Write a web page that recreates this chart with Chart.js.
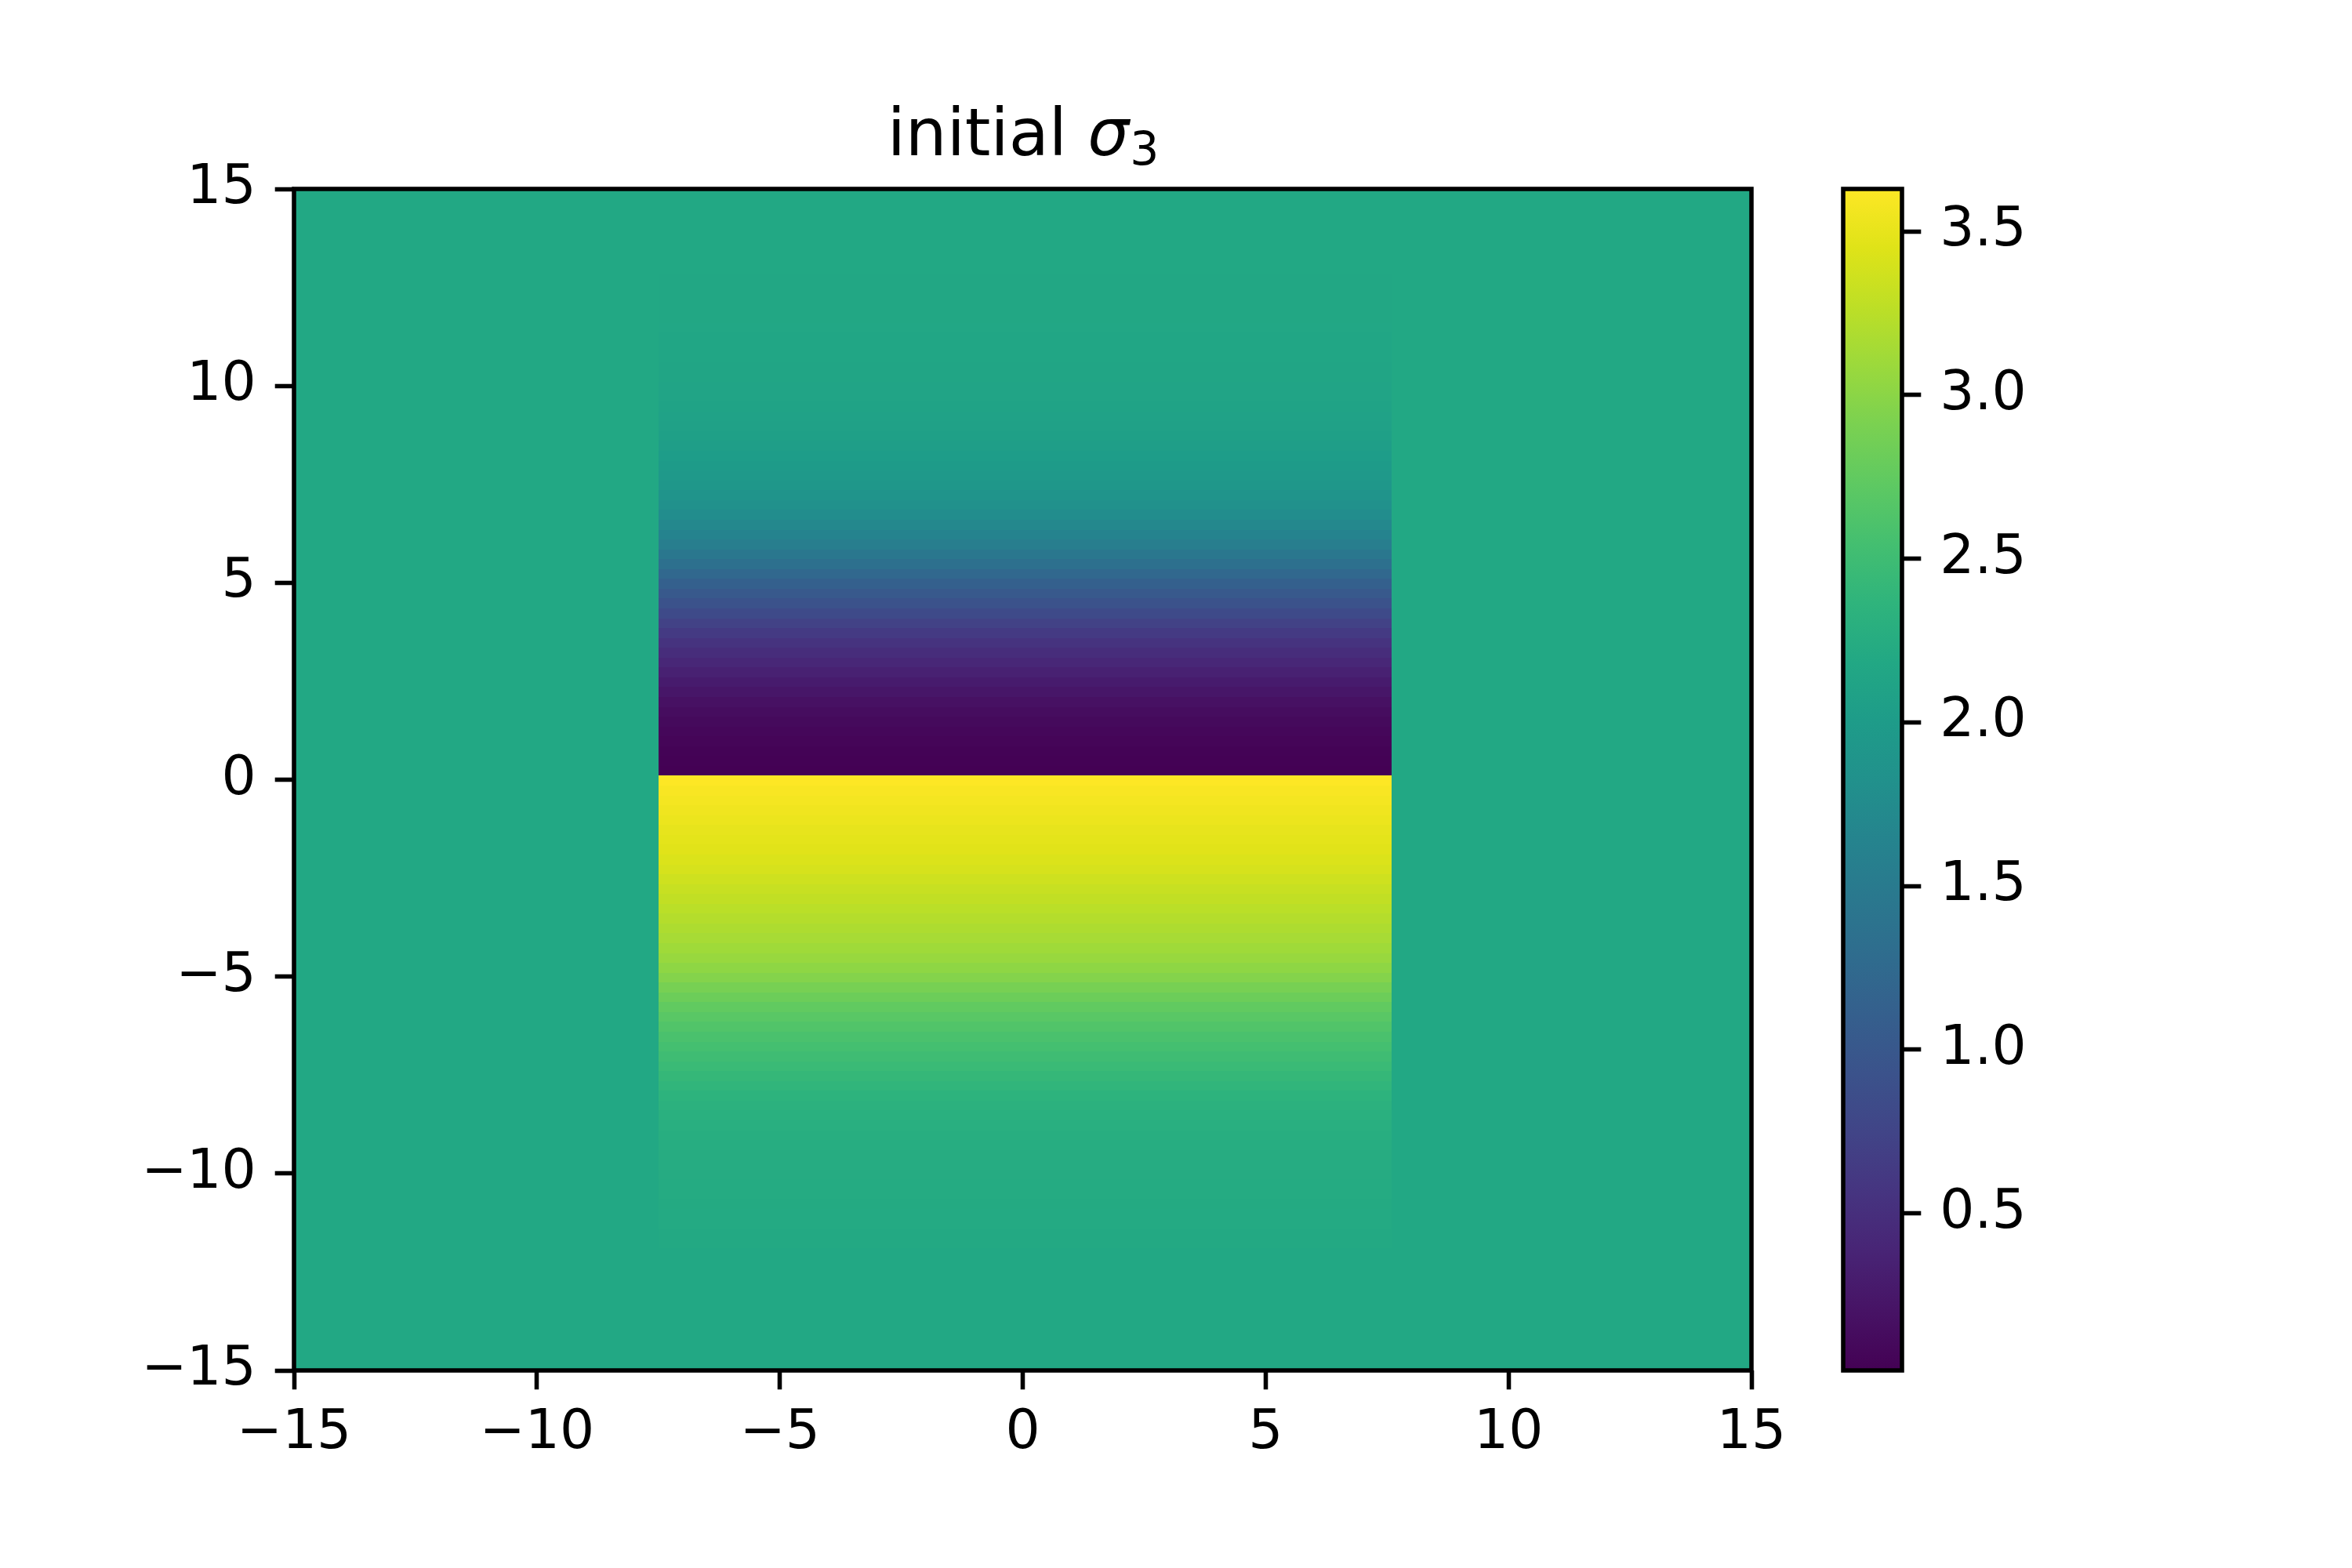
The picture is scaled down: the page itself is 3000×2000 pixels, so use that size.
<!DOCTYPE html>
<html><head><meta charset="utf-8">
<script src="https://cdn.jsdelivr.net/npm/chart.js@4/dist/chart.umd.min.js"></script>
<style>
html,body{margin:0;padding:0;background:#fff;}
#wrap{position:relative;width:3000px;height:2000px;background:#fff;overflow:hidden;}
#main{position:absolute;left:0;top:0;}
#cbar{position:absolute;left:2300px;top:0;}
</style></head><body>
<div id="wrap">
<canvas id="main" width="2300" height="2000" style="width:2300px;height:2000px"></canvas>
<canvas id="cbar" width="500" height="2000" style="width:500px;height:2000px"></canvas>
</div>
<script>
// ---------------- data ----------------
const titleText = 'initial ';
const titleSymbol = 'σ';
const titleSub = '3';
const xTicks = [-15, -10, -5, 0, 5, 10, 15];
const yTicks = [-15, -10, -5, 0, 5, 10, 15];
const cbarTicks = [0.5, 1.0, 1.5, 2.0, 2.5, 3.0, 3.5];
const domainX = [-15, 15];
const domainY = [-15, 15];
const backgroundValue = 2.18;
const stripX = [-7.5, 7.6];
const rowHeight = 0.25;
const upperRowY = [0.225, 0.475, 0.725, 0.975, 1.225, 1.475, 1.725, 1.975, 2.225, 2.475, 2.725, 2.975,
  3.225, 3.475, 3.725, 3.975, 4.225, 4.475, 4.725, 4.975, 5.225, 5.475, 5.725, 5.975, 6.225, 6.475,
  6.725, 6.975, 7.225, 7.475, 7.725, 7.975, 8.225, 8.475, 8.725, 8.975, 9.225, 9.475, 9.725, 9.975,
  10.225, 10.475, 10.725, 10.975, 11.225, 11.475, 11.725, 11.975, 12.225, 12.475, 12.725, 12.975];
const upperRowValue = [0.025, 0.03, 0.04, 0.06, 0.08, 0.11, 0.14, 0.18, 0.23, 0.29, 0.35, 0.41,
  0.48, 0.55, 0.63, 0.72, 0.82, 0.92, 1.02, 1.12, 1.23, 1.34, 1.45, 1.55, 1.63, 1.70,
  1.77, 1.83, 1.88, 1.92, 1.96, 1.99, 2.02, 2.04, 2.06, 2.08, 2.095, 2.11, 2.12, 2.13,
  2.14, 2.145, 2.15, 2.155, 2.16, 2.165, 2.17, 2.172, 2.175, 2.177, 2.178, 2.179];
const lowerRowY = [-0.025, -0.275, -0.525, -0.775, -1.025, -1.275, -1.525, -1.775, -2.025, -2.275,
  -2.525, -2.775, -3.025, -3.275, -3.525, -3.775, -4.025, -4.275, -4.525, -4.775, -5.025, -5.275,
  -5.525, -5.775, -6.025, -6.275, -6.525, -6.775, -7.025, -7.275, -7.525, -7.775, -8.025, -8.275,
  -8.525, -8.775, -9.025, -9.275, -9.525, -9.775, -10.025, -10.275, -10.525, -10.775, -11.025,
  -11.275, -11.525, -11.775];
const lowerRowValue = [3.63, 3.60, 3.575, 3.55, 3.525, 3.50, 3.48, 3.46, 3.43, 3.40,
  3.36, 3.32, 3.29, 3.255, 3.22, 3.185, 3.15, 3.11, 3.07, 3.02, 2.96, 2.89,
  2.82, 2.75, 2.69, 2.64, 2.59, 2.55, 2.50, 2.46, 2.42, 2.38, 2.345, 2.32,
  2.30, 2.285, 2.27, 2.26, 2.25, 2.24, 2.235, 2.23, 2.225, 2.22, 2.215,
  2.21, 2.205, 2.20];
const colorMin = 0.02;
const colorMax = 3.63;

// ---------------- colormap (viridis) ----------------
const viridisStops = ['#440154','#471365','#482475','#463480','#414487','#3b528b','#355f8d','#2f6c8e',
  '#2a788e','#25848e','#21918c','#1e9c89','#22a884','#2fb47c','#44bf70','#5ec962','#7ad151',
  '#9bd93c','#bddf26','#dfe318','#fde725'];
function hexToRgb(h){return [parseInt(h.substr(1,2),16),parseInt(h.substr(3,2),16),parseInt(h.substr(5,2),16)];}
const viridisRgb = viridisStops.map(hexToRgb);
function viridis(t){
  t = Math.max(0, Math.min(1, t));
  const n = viridisRgb.length - 1;
  const f = t * n; const i = Math.min(n - 1, Math.floor(f)); const u = f - i;
  const a = viridisRgb[i], b = viridisRgb[i+1];
  const c = a.map((v, k) => Math.round(v + (b[k] - v) * u));
  return 'rgb(' + c.join(',') + ')';
}
function colorFor(v){ return viridis((v - colorMin) / (colorMax - colorMin)); }

// ---------------- cells ----------------
const cells = [{x0: domainX[0], x1: domainX[1], y0: domainY[0], y1: domainY[1], v: backgroundValue}];
upperRowY.forEach((y, i) => cells.push({x0: stripX[0], x1: stripX[1], y0: y - rowHeight/2, y1: y + rowHeight/2, v: upperRowValue[i]}));
lowerRowY.forEach((y, i) => cells.push({x0: stripX[0], x1: stripX[1], y0: y - rowHeight/2, y1: y + rowHeight/2, v: lowerRowValue[i]}));

const FONT = 'DejaVu Sans';
const TICK_PX = 69.44;
const TITLE_PX = 83.33;
const LW = 5.56;
const TICK_LEN = 24.3;

function fmtNum(v){ return v < 0 ? '\u2212' + Math.abs(v) : String(v); }

const heatmapPlugin = {
  id: 'heatmap',
  beforeDatasetsDraw(chart){
    const {ctx, chartArea: a, scales: {x, y}} = chart;
    ctx.save();
    ctx.beginPath(); ctx.rect(a.left, a.top, a.right - a.left, a.bottom - a.top); ctx.clip();
    cells.forEach(c => {
      const px0 = Math.round(x.getPixelForValue(c.x0)), px1 = Math.round(x.getPixelForValue(c.x1));
      const py0 = Math.round(y.getPixelForValue(c.y1)), py1 = Math.round(y.getPixelForValue(c.y0));
      ctx.fillStyle = colorFor(c.v);
      ctx.fillRect(px0, py0, px1 - px0, py1 - py0);
    });
    ctx.restore();
  }
};

const framePlugin = {
  id: 'frame',
  afterDraw(chart){
    const {ctx, chartArea: a} = chart;
    ctx.save();
    ctx.strokeStyle = '#000'; ctx.lineWidth = LW; ctx.lineJoin = 'miter';
    ctx.strokeRect(a.left, a.top, a.right - a.left, a.bottom - a.top);
    ctx.restore();
  }
};

const titlePlugin = {
  id: 'mathTitle',
  afterDraw(chart){
    const {ctx, chartArea: a} = chart;
    ctx.save();
    ctx.fillStyle = '#000';
    ctx.textBaseline = 'alphabetic';
    ctx.textAlign = 'left';
    const fNormal = TITLE_PX + 'px "' + FONT + '"';
    const fItalic = 'italic ' + TITLE_PX + 'px "' + FONT + '"';
    const fSub = (TITLE_PX * 0.7) + 'px "' + FONT + '"';
    ctx.font = fNormal; const w1 = ctx.measureText(titleText).width;
    ctx.font = fItalic; const w2 = ctx.measureText(titleSymbol).width;
    ctx.font = fSub; const w3 = ctx.measureText(titleSub).width;
    const total = w1 + w2 + w3;
    let x0 = (a.left + a.right) / 2 - total / 2;
    const base = 198;
    ctx.font = fNormal; ctx.fillText(titleText, x0, base);
    ctx.font = fItalic; ctx.fillText(titleSymbol, x0 + w1, base);
    ctx.font = fSub; ctx.fillText(titleSub, x0 + w1 + w2 + 1, base + 12);
    ctx.restore();
  }
};

const tickGrid = {display: true, drawOnChartArea: false, drawTicks: true, tickLength: TICK_LEN, tickWidth: LW, tickColor: '#000'};

new Chart(document.getElementById('main'), {
  type: 'scatter',
  data: {datasets: [{
    data: cells.map(c => ({x: (c.x0 + c.x1) / 2, y: (c.y0 + c.y1) / 2})),
    pointRadius: 0, showLine: false
  }]},
  options: {
    responsive: false, animation: false, devicePixelRatio: 1,
    layout: {padding: {left: 0, right: 66, top: 241, bottom: 102}},
    plugins: {legend: {display: false}, tooltip: {enabled: false}, title: {display: false}},
    scales: {
      x: {
        type: 'linear', min: domainX[0], max: domainX[1],
        afterBuildTicks: s => { s.ticks = xTicks.map(v => ({value: v})); },
        afterFit: s => { s.height = 150; },
        ticks: {callback: v => fmtNum(v), font: {family: FONT, size: TICK_PX, lineHeight: 1.2}, color: '#000', padding: 15, maxRotation: 0, autoSkip: false},
        grid: tickGrid, border: {display: false}
      },
      y: {
        type: 'linear', min: domainY[0], max: domainY[1],
        afterBuildTicks: s => { s.ticks = yTicks.map(v => ({value: v})); },
        afterFit: s => { s.width = 375; },
        ticks: {callback: v => fmtNum(v), font: {family: FONT, size: TICK_PX, lineHeight: 1.2}, color: '#000', padding: 24, autoSkip: false},
        grid: tickGrid, border: {display: false}
      }
    }
  },
  plugins: [heatmapPlugin, framePlugin, titlePlugin]
});

const colorbarPlugin = {
  id: 'colorbar',
  beforeDatasetsDraw(chart){
    const {ctx, chartArea: a, scales: {y}} = chart;
    const pBottom = y.getPixelForValue(colorMin), pTop = y.getPixelForValue(colorMax);
    const g = ctx.createLinearGradient(0, pBottom, 0, pTop);
    viridisStops.forEach((c, i) => g.addColorStop(i / (viridisStops.length - 1), c));
    ctx.save();
    ctx.fillStyle = g;
    ctx.fillRect(a.left, pTop, a.right - a.left, pBottom - pTop);
    ctx.restore();
  }
};

new Chart(document.getElementById('cbar'), {
  type: 'scatter',
  data: {datasets: [{data: [], pointRadius: 0}]},
  options: {
    responsive: false, animation: false, devicePixelRatio: 1,
    layout: {padding: {left: 51, right: 0, top: 241, bottom: 252}},
    plugins: {legend: {display: false}, tooltip: {enabled: false}},
    scales: {
      x: {type: 'linear', display: false, min: 0, max: 1},
      y: {
        type: 'linear', position: 'right', min: colorMin, max: colorMax,
        afterBuildTicks: s => { s.ticks = cbarTicks.map(v => ({value: v})); },
        afterFit: s => { s.width = 374; },
        ticks: {callback: v => Number(v).toFixed(1), font: {family: FONT, size: TICK_PX, lineHeight: 1.2}, color: '#000', padding: 24, autoSkip: false},
        grid: tickGrid, border: {display: false}
      }
    }
  },
  plugins: [colorbarPlugin, framePlugin]
});
</script>
</body></html>
